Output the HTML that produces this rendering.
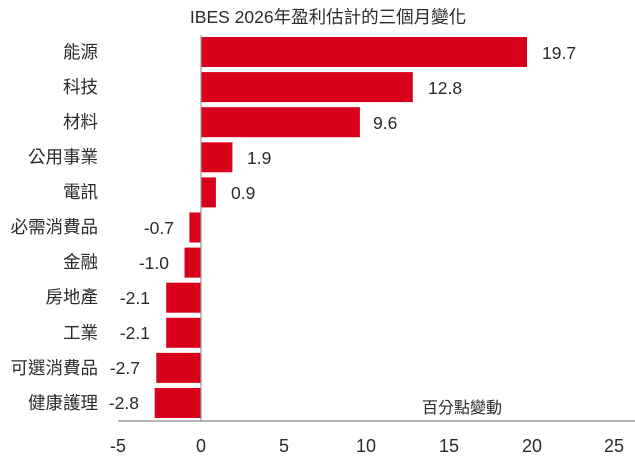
<!DOCTYPE html>
<html><head><meta charset="utf-8"><style>
html,body{margin:0;padding:0;background:#fff;}
svg{display:block;}
text{font-family:"Liberation Sans","Noto Sans CJK TC",sans-serif;fill:#2a2a2a;}
</style></head><body>
<svg width="635" height="460" viewBox="0 0 635 460">
<text x="328" y="23" font-size="17.5" text-anchor="middle">IBES 2026年盈利估計的三個月變化</text>
<g fill="#d9001b">
<rect x="201" y="37" width="326" height="30"/>
<rect x="201" y="72.1" width="211.8" height="30"/>
<rect x="201" y="107.2" width="158.9" height="30"/>
<rect x="201" y="142.3" width="31.4" height="30"/>
<rect x="201" y="177.4" width="14.9" height="30"/>
<rect x="189.4" y="212.5" width="11.6" height="30"/>
<rect x="184.5" y="247.6" width="16.5" height="30"/>
<rect x="166.2" y="282.7" width="34.8" height="30"/>
<rect x="166.2" y="317.8" width="34.8" height="30"/>
<rect x="156.3" y="352.9" width="44.7" height="30"/>
<rect x="154.7" y="388" width="46.3" height="30"/>
</g>
<line x1="201" y1="35" x2="201" y2="421" stroke="#999" stroke-width="1.2"/>
<line x1="118" y1="421" x2="635" y2="421" stroke="#888" stroke-width="1.2"/>
<g font-size="17.5" text-anchor="end">
<text x="98" y="58">能源</text>
<text x="98" y="93">科技</text>
<text x="98" y="128">材料</text>
<text x="98" y="163">公用事業</text>
<text x="98" y="198">電訊</text>
<text x="98" y="233">必需消費品</text>
<text x="98" y="268">金融</text>
<text x="98" y="303">房地產</text>
<text x="98" y="339">工業</text>
<text x="98" y="374">可選消費品</text>
<text x="98" y="409">健康護理</text>
</g>
<g font-size="17.5">
<text x="542" y="59">19.7</text>
<text x="428" y="94">12.8</text>
<text x="373" y="129">9.6</text>
<text x="247" y="164">1.9</text>
<text x="231" y="199">0.9</text>
</g>
<g font-size="17.5" text-anchor="end">
<text x="174" y="234">-0.7</text>
<text x="169" y="269">-1.0</text>
<text x="150" y="304">-2.1</text>
<text x="150" y="339">-2.1</text>
<text x="140" y="374">-2.7</text>
<text x="139" y="409">-2.8</text>
</g>
<text x="462" y="413" font-size="16" text-anchor="middle">百分點變動</text>
<g font-size="18" text-anchor="middle">
<text x="118" y="452">-5</text>
<text x="201" y="452">0</text>
<text x="284" y="452">5</text>
<text x="366" y="452">10</text>
<text x="449" y="452">15</text>
<text x="532" y="452">20</text>
<text x="614" y="452">25</text>
</g>
</svg>
</body></html>
